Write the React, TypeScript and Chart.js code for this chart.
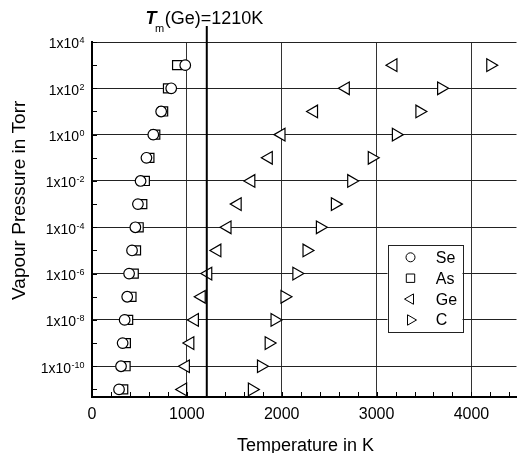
import React, { useEffect, useRef } from 'react';
import { Chart, registerables } from 'chart.js';

Chart.register(...registerables);

// ---- data ----
const pressures = [1e3, 1e2, 1e1, 1e0, 1e-1, 1e-2, 1e-3, 1e-4, 1e-5, 1e-6, 1e-7, 1e-8, 1e-9, 1e-10, 1e-11];
const seTemps = [983, 835, 729, 646, 574, 512, 484, 457, 422, 391, 371, 344, 323, 306, 285];
const asTemps = [897, 801, 750, 667, 605, 557, 530, 492, 464, 440, 416, 381, 357, 354, 329];
const geTemps = [3176, 2674, 2339, 1996, 1862, 1678, 1534, 1427, 1320, 1224, 1155, 1083, 1035, 988, 959];
const cTemps = [4200, 3682, 3453, 3205, 2951, 2734, 2562, 2404, 2263, 2156, 2031, 1926, 1864, 1783, 1687];
const seriesNames = ['Se', 'As', 'Ge', 'C'];

const xTickValues = [0, 1000, 2000, 3000, 4000];
const xMinorStep = 200;
const xMin = 0;
const xMax = 4475;
const yTickExponents = [4, 2, 0, -2, -4, -6, -8, -10];
const yMinorExponents = [-11, -10, -9, -8, -7, -6, -5, -4, -3, -2, -1, 0, 1, 2, 3, 4];
const yMin = 4.7e-12;
const yMax = 1e4;

const meltTemp = 1210;
const meltLabelSymbol = 'T';
const meltLabelSub = 'm';
const meltLabelRest = '(Ge)=1210K';
const xTitle = 'Temperature in K';
const yTitle = 'Vapour Pressure in Torr';

const FONT = '"Liberation Sans", Arial, Helvetica, sans-serif';

function drawMarker(ctx: CanvasRenderingContext2D, kind: string, x: number, y: number, r: number) {
  ctx.beginPath();
  if (kind === 'circle') {
    ctx.arc(x, y, r, 0, Math.PI * 2);
  } else if (kind === 'rect') {
    ctx.rect(x - r, y - r, 2 * r, 2 * r);
  } else if (kind === 'left') {
    ctx.moveTo(x - r, y);
    ctx.lineTo(x + r / 2, y - (r * Math.sqrt(3)) / 2);
    ctx.lineTo(x + r / 2, y + (r * Math.sqrt(3)) / 2);
    ctx.closePath();
  } else {
    ctx.moveTo(x + r, y);
    ctx.lineTo(x - r / 2, y - (r * Math.sqrt(3)) / 2);
    ctx.lineTo(x - r / 2, y + (r * Math.sqrt(3)) / 2);
    ctx.closePath();
  }
  ctx.fillStyle = '#fff';
  ctx.fill();
  ctx.stroke();
}

const decorPlugin = {
  id: 'decor',
  afterDraw(chart: any) {
    const ctx: CanvasRenderingContext2D = chart.ctx;
    const { left, right, top, bottom } = chart.chartArea;
    const xs = chart.scales.x;
    const ys = chart.scales.y;
    ctx.save();

    // inward minor ticks
    ctx.strokeStyle = '#000';
    ctx.lineWidth = 1;
    ctx.beginPath();
    for (const e of yMinorExponents) {
      const y = Math.round(ys.getPixelForValue(Math.pow(10, e))) + 0.5;
      ctx.moveTo(left, y);
      ctx.lineTo(left + 5, y);
    }
    for (let v = xMin + xMinorStep; v <= xMax; v += xMinorStep) {
      const x = Math.round(xs.getPixelForValue(v)) + 0.5;
      ctx.moveTo(x, bottom);
      ctx.lineTo(x, bottom - 5);
    }
    ctx.stroke();

    // melting point line
    const mx = xs.getPixelForValue(meltTemp);
    ctx.lineWidth = 2;
    ctx.beginPath();
    ctx.moveTo(mx, top - 16);
    ctx.lineTo(mx, bottom);
    ctx.stroke();

    ctx.fillStyle = '#000';
    // melting label
    ctx.textBaseline = 'alphabetic';
    ctx.textAlign = 'left';
    const lx = mx - 61.3;
    const ly = top - 17.7;
    ctx.font = `italic bold 18px ${FONT}`;
    ctx.fillText(meltLabelSymbol, lx, ly);
    const tw = ctx.measureText(meltLabelSymbol).width;
    ctx.font = `11px ${FONT}`;
    ctx.fillText(meltLabelSub, lx + tw - 1.5, ly + 7.2);
    const sw = ctx.measureText(meltLabelSub).width;
    ctx.font = `18px ${FONT}`;
    ctx.fillText(meltLabelRest, lx + tw - 1.5 + sw + 0.5, ly);

    // y tick labels
    const rightEdge = left - 7.5;
    for (const e of yTickExponents) {
      const y = ys.getPixelForValue(Math.pow(10, e));
      const es = String(e);
      ctx.font = `9px ${FONT}`;
      const ew = ctx.measureText(es).width;
      ctx.textAlign = 'left';
      ctx.fillText(es, rightEdge - ew, y + 1.3);
      ctx.font = `14px ${FONT}`;
      ctx.textAlign = 'right';
      ctx.fillText('1x10', rightEdge - ew - 0.5, y + 6.4);
    }

    // x tick labels
    ctx.font = `16px ${FONT}`;
    ctx.textAlign = 'center';
    for (const v of xTickValues) {
      const x = xs.getPixelForValue(v);
      ctx.fillText(String(v), x, bottom + 22);
    }

    // axis titles
    ctx.font = `18px ${FONT}`;
    ctx.fillText(xTitle, (left + right) / 2 + 1.3, bottom + 53.7);
    ctx.save();
    ctx.translate(17, 192.3);
    ctx.rotate(-Math.PI / 2);
    ctx.font = `19px ${FONT}`;
    ctx.textAlign = 'center';
    ctx.fillText(yTitle, 0, 0);
    ctx.restore();

    // legend
    const bx = right - 129;
    const by = top + 203;
    const bw = 75;
    const bh = 87;
    ctx.fillStyle = '#fff';
    ctx.fillRect(bx, by, bw, bh);
    ctx.strokeStyle = '#222';
    ctx.lineWidth = 1;
    ctx.strokeRect(Math.round(bx) + 0.5, Math.round(by) + 0.5, bw, bh);
    const kinds = ['circle', 'rect', 'left', 'right'];
    const sizes = [4.5, 4.2, 6, 6];
    for (let i = 0; i < seriesNames.length; i++) {
      const ry = by + 12.3 + i * 20.9;
      ctx.strokeStyle = '#000';
      ctx.lineWidth = 1;
      drawMarker(ctx, kinds[i], bx + 23, ry, sizes[i]);
      ctx.fillStyle = '#000';
      ctx.font = `16px ${FONT}`;
      ctx.textAlign = 'left';
      ctx.textBaseline = 'middle';
      ctx.fillText(seriesNames[i], bx + 48.3, ry + 1);
      ctx.textBaseline = 'alphabetic';
    }

    ctx.restore();
  },
};

function toPoints(temps: number[]) {
  return temps.map((t, i) => ({ x: t, y: pressures[i] }));
}

export default function App() {
  const ref = useRef<HTMLCanvasElement | null>(null);
  useEffect(() => {
    if (!ref.current) return;
    const common = {
      showLine: false,
      borderColor: '#000',
      backgroundColor: '#fff',
      pointBorderColor: '#000',
      pointBackgroundColor: '#fff',
      pointBorderWidth: 1.2,
    };
    const chart = new Chart(ref.current, {
      type: 'scatter',
      data: {
        datasets: [
          { ...common, label: seriesNames[0], data: toPoints(seTemps), pointStyle: 'circle', pointRadius: 5.3 },
          { ...common, label: seriesNames[1], data: toPoints(asTemps), pointStyle: 'rect', pointRadius: 6.4 },
          { ...common, label: seriesNames[2], data: toPoints(geTemps), pointStyle: 'triangle', pointRotation: -90, pointRadius: 7.3 },
          { ...common, label: seriesNames[3], data: toPoints(cTemps), pointStyle: 'triangle', pointRotation: 90, pointRadius: 7.3 },
        ],
      },
      options: {
        responsive: false,
        animation: false,
        devicePixelRatio: 1,
        layout: { padding: { top: 34, left: 0, right: 0, bottom: 0 } },
        plugins: { legend: { display: false }, tooltip: { enabled: false }, title: { display: false } },
        scales: {
          x: {
            type: 'linear',
            min: xMin,
            max: xMax,
            bounds: 'data',
            ticks: { display: false },
            grid: { color: '#333', lineWidth: 1, drawTicks: false },
            border: { display: true, color: '#000', width: 2 },
            afterBuildTicks: (scale: any) => {
              scale.ticks = xTickValues.map((v) => ({ value: v }));
            },
            afterFit: (scale: any) => {
              scale.height = 56;
            },
          },
          y: {
            type: 'logarithmic',
            min: yMin,
            max: yMax,
            bounds: 'data',
            ticks: { display: false },
            grid: { color: '#222', lineWidth: 1, drawTicks: false },
            border: { display: true, color: '#000', width: 2 },
            afterBuildTicks: (scale: any) => {
              scale.ticks = yTickExponents.map((e) => ({ value: Math.pow(10, e) }));
            },
            afterFit: (scale: any) => {
              scale.width = 84;
            },
          },
        },
      } as any,
      plugins: [decorPlugin],
    });
    return () => chart.destroy();
  }, []);
  return <canvas ref={ref} width={517} height={445} style={{ display: 'block' }} />;
}
